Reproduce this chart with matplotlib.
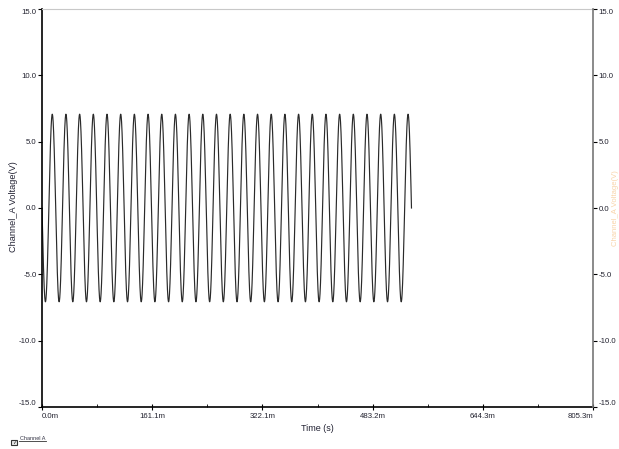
import numpy as np
import matplotlib
matplotlib.use("Agg")
import matplotlib.pyplot as plt

plt.rcParams['font.family'] = ['Liberation Sans', 'DejaVu Sans']

# ---- data ----
peak_voltage = 7.07        # V (5 Vrms sine)
frequency_hz = 50.0        # Hz
stop_time_s = 0.540        # s, where the trace ends
start_sign = -1.0          # trace starts at 0 going negative

x_ticks = [0.0, 0.1611, 0.3221, 0.4832, 0.6443, 0.8053]
x_tick_labels = ["0.0m", "161.1m", "322.1m", "483.2m", "644.3m", "805.3m"]
x_minor = [0.08055, 0.2416, 0.40265, 0.5637, 0.7248]
y_ticks = [-15.0, -10.0, -5.0, 0.0, 5.0, 10.0, 15.0]
y_tick_labels = ["-15.0", "-10.0", "-5.0", "0.0", "5.0", "10.0", "15.0"]

t = np.linspace(0, stop_time_s, 6000)
v = start_sign * peak_voltage * np.sin(2 * np.pi * frequency_hz * t)

fig = plt.figure(figsize=(6.19, 4.49), dpi=100)
ax = fig.add_axes([42/619, 1 - 407/449, (593 - 42)/619, (407 - 9)/449])

ax.plot(t, v, color='#2a2a2a', lw=0.85)
ax.set_xlim(0, 0.8053)
ax.set_ylim(-15, 15)

tick_color = '#22222f'
ax.set_xticks(x_ticks)
ax.set_xticklabels(x_tick_labels)
ax.set_xticks(x_minor, minor=True)
ax.set_yticks(y_ticks)
ax.set_yticklabels(y_tick_labels)
ax.tick_params(axis='x', which='major', direction='inout', length=4, width=0.8,
               labelsize=5.6, labelcolor=tick_color, pad=2.5)
ax.tick_params(axis='x', which='minor', direction='in', length=2, width=0.6)
ax.tick_params(axis='y', which='major', direction='out', length=3, width=0.8,
               labelsize=5.6, labelcolor=tick_color, pad=1)

xl = ax.get_xticklabels()
xl[0].set_ha('left')
xl[-1].set_ha('right')
yl = ax.get_yticklabels()
yl[0].set_va('bottom')
yl[-1].set_va('top')

ax.spines['top'].set_color('#c8c8c8')
ax.spines['top'].set_linewidth(0.8)
ax.spines['right'].set_visible(False)
ax.spines['left'].set_color('black')
ax.spines['left'].set_linewidth(1.2)
ax.spines['bottom'].set_color('black')
ax.spines['bottom'].set_linewidth(1.2)

ax2 = ax.twinx()
ax2.set_ylim(-15, 15)
ax2.set_yticks(y_ticks)
ax2.set_yticklabels(y_tick_labels)
ax2.tick_params(axis='y', direction='out', length=3, width=0.8,
                labelsize=5.6, labelcolor=tick_color, pad=1)
yl2 = ax2.get_yticklabels()
yl2[0].set_va('bottom')
yl2[-1].set_va('top')
for s in ['top', 'left', 'bottom']:
    ax2.spines[s].set_visible(False)
ax2.spines['right'].set_color('#777777')
ax2.spines['right'].set_linewidth(1.2)

ax.set_xlabel("Time (s)", fontsize=6.5, color='#222233', labelpad=3)
fig.text(13.5/619, 1 - 207/449, "Channel_A Voltage(V)", rotation=90,
         ha='center', va='center', fontsize=6.6, color='#222233')
fig.text(615.5/619, 1 - 208/449, "Channel_A Voltage(V)", rotation=90,
         ha='center', va='center', fontsize=5.5, color='#f0a040', alpha=0.45)

# legend entry
fig.patches.append(plt.Rectangle((11/619, 1 - 445/449), 6/619, 5/449,
                                 transform=fig.transFigure, fill=True,
                                 facecolor='#e8e8e8', edgecolor='#333333', lw=0.8))
fig.text(14/619, 1 - 442.5/449, "✓", fontsize=4, ha='center', va='center',
         color='#222222', family=['DejaVu Sans'])
fig.text(20/619, 1 - 438/449, "Channel A", fontsize=4, ha='left', va='center',
         color='#333344')
fig.lines.append(plt.Line2D([19/619, 46/619], [1 - 441/449, 1 - 441/449],
                            transform=fig.transFigure, color='#333333', lw=0.6))

fig.savefig("out.png", dpi=100)
